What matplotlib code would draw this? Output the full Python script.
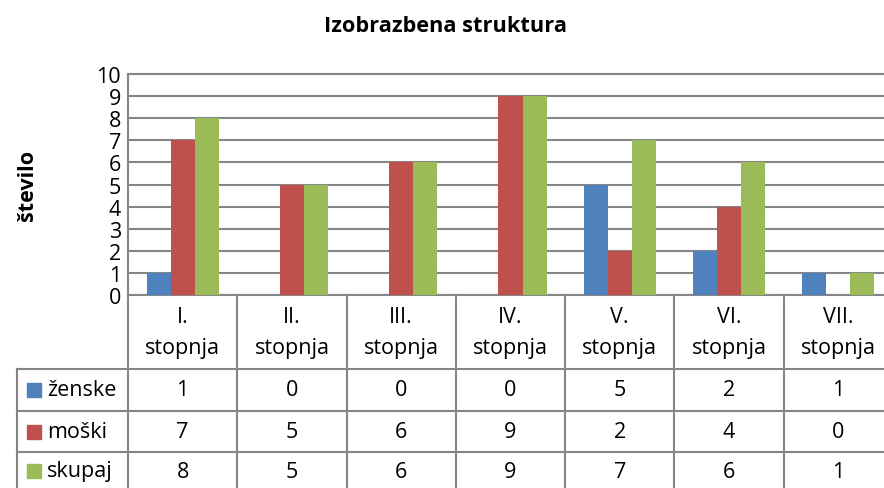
import matplotlib.pyplot as plt
from matplotlib.patches import Rectangle

plt.rcParams['font.family'] = ['Open Sans', 'DejaVu Sans']

# data
categories = ['I.\nstopnja', 'II.\nstopnja', 'III.\nstopnja', 'IV.\nstopnja',
              'V.\nstopnja', 'VI.\nstopnja', 'VII.\nstopnja']
series_names = ['ženske', 'moški', 'skupaj']
zenske = [1, 0, 0, 0, 5, 2, 1]
moski = [7, 5, 6, 9, 2, 4, 0]
skupaj = [8, 5, 6, 9, 7, 6, 1]
colors = ['#4F81BD', '#C0504D', '#9BBB59']

W, H = 884, 489
fig = plt.figure(figsize=(W / 100, H / 100), dpi=100)
grid_c = '#868686'
fs = 15.5

# plot area (pixel layout)
left, top, right, bottom = 128, 75, 893, 296
ax = fig.add_axes([left / W, 1 - bottom / H, (right - left) / W, (bottom - top) / H])

bw = 0.22
x = range(len(categories))
for k, vals in enumerate([zenske, moski, skupaj]):
    ax.bar([i + (k - 1) * bw for i in x], vals, width=bw, color=colors[k],
           zorder=3)

ax.set_xlim(-0.5, len(categories) - 0.5)
ax.set_ylim(0, 10)
ax.set_yticks(range(0, 11))
ax.set_xticks([])
ax.tick_params(axis='y', length=0, labelsize=fs, pad=5)
ax.grid(axis='y', color=grid_c, linewidth=1.5, zorder=0)
for s in ax.spines.values():
    s.set_color(grid_c)
    s.set_linewidth(1.5)
ax.set_ylabel('število', fontsize=15.5, fontweight='bold')
ax.yaxis.set_label_coords(-0.118, 0.5)

fig.text(445 / W, 1 - 26 / H, 'Izobrazbena struktura', ha='center', va='center',
         fontsize=15.7, fontweight='bold')

# data table drawn in pixel coordinates
tab = fig.add_axes([0, 0, 1, 1])
tab.set_xlim(0, W)
tab.set_ylim(H, 0)
tab.axis('off')

col_w = (right - left) / len(categories)
edges = [left + i * col_w for i in range(len(categories) + 1)]
row_y = [370, 412, 453, 495]
lw = 1.5
for e in edges:
    tab.plot([e, e], [bottom, H + 5], color=grid_c, lw=lw)
tab.plot([17, 17], [row_y[0], H + 5], color=grid_c, lw=lw)
for y in row_y[:3]:
    tab.plot([17, W + 10], [y, y], color=grid_c, lw=lw)

for i, cat in enumerate(categories):
    cx = (edges[i] + edges[i + 1]) / 2
    tab.text(cx, (bottom + row_y[0]) / 2, cat, ha='center', va='center',
             fontsize=fs, linespacing=1.6)

for r, (name, vals) in enumerate(zip(series_names, [zenske, moski, skupaj])):
    cy = (row_y[r] + row_y[r + 1]) / 2 if r < 2 else (row_y[r] + 489) / 2 + 1
    tab.add_patch(Rectangle((27, cy - 7), 14, 14, color=colors[r]))
    tab.text(47, cy, name, ha='left', va='center', fontsize=fs)
    for i, v in enumerate(vals):
        cx = (edges[i] + edges[i + 1]) / 2
        tab.text(cx, cy, str(v), ha='center', va='center', fontsize=fs)

fig.savefig('out.png', dpi=100)
